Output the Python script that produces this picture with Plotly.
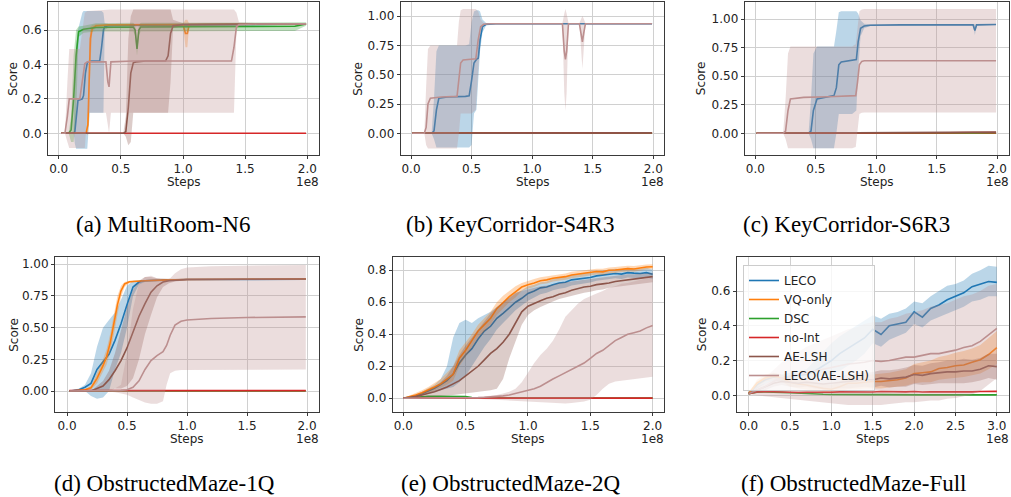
import plotly.graph_objects as go

# ----------------------------------------------------------------- data
SERIES = ["LECO", "VQ-only", "DSC", "no-Int", "AE-LSH", "LECO(AE-LSH)"]
CAPTIONS = ["(a) MultiRoom-N6", "(b) KeyCorridor-S4R3", "(c) KeyCorridor-S6R3",
            "(d) ObstructedMaze-1Q", "(e) ObstructedMaze-2Q", "(f) ObstructedMaze-Full"]
X_TICKS_2 = [0.0, 0.5, 1.0, 1.5, 2.0]
X_TICKS_3 = [0.0, 0.5, 1.0, 1.5, 2.0, 2.5, 3.0]
Y_TICKS_A = [0.0, 0.2, 0.4, 0.6]
Y_TICKS_Q = [0.0, 0.25, 0.5, 0.75, 1.0]
Y_TICKS_E = [0.0, 0.2, 0.4, 0.6, 0.8]
Y_TICKS_F = [0.0, 0.2, 0.4, 0.6]

# (a) MultiRoom-N6  (steps in 1e8)
A_LECO_X = [0.02, 0.12, 0.13, 0.14, 0.155, 0.19, 0.2, 0.215, 0.23, 0.25, 0.33, 0.345, 0.36, 0.37, 0.4, 0.6, 1.0, 1.5, 1.99]
A_LECO_Y = [0.0, 0.0, 0.01, 0.1, 0.19, 0.2, 0.22, 0.35, 0.41, 0.42, 0.42, 0.5, 0.6, 0.62, 0.625, 0.628, 0.63, 0.632, 0.635]
A_LECO_LO = [0.0, 0.0, -0.06, -0.09, -0.09, -0.09, -0.09, -0.09, -0.09, 0.12, 0.12, 0.12, 0.12, 0.6, 0.615, 0.62, 0.625, 0.628, 0.63]
A_LECO_HI = [0.0, 0.0, 0.3, 0.5, 0.6, 0.7, 0.71, 0.71, 0.71, 0.71, 0.71, 0.71, 0.7, 0.64, 0.635, 0.636, 0.636, 0.637, 0.64]
A_VQ_X = [0.02, 0.22, 0.235, 0.245, 0.255, 0.27, 0.3, 0.4, 1.0, 1.02, 1.035, 1.05, 1.5, 1.99]
A_VQ_Y = [0.0, 0.0, 0.05, 0.3, 0.55, 0.61, 0.625, 0.63, 0.632, 0.58, 0.58, 0.632, 0.635, 0.636]
A_VQ_LO = [0.0, 0.0, -0.01, 0.1, 0.4, 0.59, 0.615, 0.625, 0.628, 0.5, 0.5, 0.628, 0.63, 0.632]
A_VQ_HI = [0.0, 0.0, 0.12, 0.5, 0.62, 0.63, 0.635, 0.635, 0.636, 0.66, 0.66, 0.636, 0.637, 0.64]
A_DSC_X = [0.02, 0.08, 0.1, 0.12, 0.14, 0.16, 0.2, 0.3, 0.6, 0.615, 0.63, 0.645, 0.66, 1.0, 1.5, 1.9, 1.99]
A_DSC_Y = [0.0, 0.0, 0.02, 0.2, 0.45, 0.59, 0.605, 0.615, 0.618, 0.6, 0.49, 0.6, 0.618, 0.62, 0.62, 0.622, 0.635]
A_DSC_LO = [0.0, 0.0, -0.05, -0.05, 0.1, 0.56, 0.585, 0.592, 0.592, 0.57, 0.45, 0.57, 0.592, 0.592, 0.592, 0.595, 0.625]
A_DSC_HI = [0.0, 0.0, 0.1, 0.45, 0.6, 0.62, 0.625, 0.64, 0.642, 0.63, 0.53, 0.63, 0.642, 0.643, 0.644, 0.645, 0.645]
A_NOINT_X = [0.02, 1.99]
A_NOINT_Y = [0.0, 0.0]
A_AE_X = [0.02, 0.52, 0.54, 0.56, 0.58, 0.6, 0.62, 0.7, 0.86, 0.88, 0.9, 0.92, 1.0, 1.5, 1.99]
A_AE_Y = [0.0, 0.0, 0.01, 0.15, 0.35, 0.41, 0.415, 0.42, 0.42, 0.45, 0.58, 0.625, 0.632, 0.635, 0.636]
A_AE_LO = [0.0, 0.0, -0.02, -0.07, -0.05, 0.12, 0.12, 0.12, 0.12, 0.12, 0.3, 0.61, 0.625, 0.63, 0.632]
A_AE_HI = [0.0, 0.0, 0.1, 0.55, 0.68, 0.72, 0.72, 0.72, 0.72, 0.72, 0.72, 0.66, 0.64, 0.64, 0.64]
A_LL_X = [0.02, 0.05, 0.07, 0.085, 0.17, 0.19, 0.21, 0.23, 0.38, 0.395, 0.405, 0.42, 0.6, 1.0, 1.39, 1.41, 1.43, 1.45, 1.6, 1.99]
A_LL_Y = [0.0, 0.0, 0.1, 0.2, 0.2, 0.3, 0.405, 0.415, 0.415, 0.3, 0.27, 0.415, 0.42, 0.42, 0.42, 0.5, 0.62, 0.632, 0.635, 0.636]
A_LL_LO = [0.0, 0.0, -0.05, -0.085, -0.085, -0.085, -0.085, 0.12, 0.12, 0.05, 0.0, 0.12, 0.12, 0.12, 0.12, 0.12, 0.6, 0.625, 0.63, 0.632]
A_LL_HI = [0.0, 0.0, 0.3, 0.49, 0.49, 0.6, 0.7, 0.71, 0.72, 0.72, 0.72, 0.72, 0.72, 0.72, 0.72, 0.72, 0.7, 0.645, 0.64, 0.64]

# (b) KeyCorridor-S4R3
B_LECO_X = [0.01, 0.17, 0.19, 0.21, 0.23, 0.3, 0.45, 0.48, 0.5, 0.52, 0.54, 0.555, 0.57, 0.59, 0.62, 0.7, 1.0, 1.5, 1.99]
B_LECO_Y = [0.0, 0.0, 0.02, 0.2, 0.3, 0.31, 0.315, 0.32, 0.45, 0.6, 0.63, 0.64, 0.8, 0.91, 0.93, 0.935, 0.935, 0.935, 0.935]
B_LECO_LO = [0.0, 0.0, -0.05, -0.12, -0.12, -0.12, -0.12, -0.12, -0.1, 0.17, 0.2, 0.5, 0.7, 0.86, 0.92, 0.93, 0.93, 0.93, 0.93]
B_LECO_HI = [0.0, 0.0, 0.3, 0.7, 0.75, 0.75, 0.75, 0.76, 0.95, 1.04, 1.05, 1.05, 1.04, 0.97, 0.94, 0.94, 0.94, 0.94, 0.94]
B_FLAT_X = [0.01, 0.6, 1.0, 1.2, 1.4, 1.6, 1.8, 1.99]
B_VQ_Y = [0.0, 0.0, 0.002, 0.003, 0.002, 0.004, 0.003, 0.004]
B_DSC_Y = [0.0, 0.0, 0.001, 0.002, 0.003, 0.002, 0.002, 0.003]
B_NOINT_Y = [0.0, 0.0, 0.003, 0.004, 0.003, 0.005, 0.004, 0.005]
B_AE_Y = [0.0, 0.0, 0.002, 0.003, 0.004, 0.003, 0.004, 0.004]
B_LL_X = [0.01, 0.11, 0.125, 0.14, 0.16, 0.25, 0.38, 0.395, 0.41, 0.43, 0.5, 0.535, 0.555, 0.575, 0.6, 0.65, 1.0, 1.25,
          1.265, 1.275, 1.285, 1.3, 1.39, 1.405, 1.415, 1.425, 1.44, 1.99]
B_LL_Y = [0.0, 0.0, 0.05, 0.25, 0.3, 0.31, 0.315, 0.45, 0.6, 0.625, 0.63, 0.635, 0.8, 0.91, 0.93, 0.935, 0.935, 0.935,
          0.7, 0.63, 0.7, 0.935, 0.935, 0.85, 0.78, 0.85, 0.935, 0.935]
B_LL_LO = [0.0, 0.0, -0.1, -0.13, -0.13, -0.13, -0.13, 0.0, 0.17, 0.17, 0.17, 0.2, 0.55, 0.86, 0.92, 0.93, 0.93, 0.93,
           0.35, 0.19, 0.35, 0.93, 0.93, 0.7, 0.55, 0.7, 0.93, 0.93]
B_LL_HI = [0.0, 0.0, 0.4, 0.72, 0.75, 0.75, 0.75, 0.95, 1.05, 1.06, 1.06, 1.06, 1.04, 0.97, 0.94, 0.94, 0.94, 0.94,
           1.02, 1.06, 1.02, 0.94, 0.94, 0.98, 1.0, 0.98, 0.94, 0.94]

# (c) KeyCorridor-S6R3
C_LECO_X = [0.01, 0.44, 0.46, 0.48, 0.51, 0.6, 0.65, 0.67, 0.69, 0.71, 0.8, 0.835, 0.85, 0.87, 0.9, 0.95, 1.2, 1.5, 1.8, 1.815, 1.83, 1.99]
C_LECO_Y = [0.0, 0.0, 0.02, 0.2, 0.3, 0.32, 0.33, 0.4, 0.6, 0.625, 0.635, 0.645, 0.8, 0.92, 0.94, 0.947, 0.95, 0.95, 0.95, 0.9, 0.95, 0.953]
C_LECO_LO = [0.0, 0.0, -0.05, -0.13, -0.13, -0.13, -0.13, 0.0, 0.17, 0.17, 0.17, 0.2, 0.55, 0.85, 0.92, 0.94, 0.945, 0.945, 0.945, 0.86, 0.945, 0.948]
C_LECO_HI = [0.0, 0.0, 0.3, 0.7, 0.76, 0.76, 0.76, 0.9, 1.06, 1.07, 1.07, 1.07, 1.05, 0.99, 0.96, 0.955, 0.955, 0.955, 0.955, 0.95, 0.955, 0.958]
C_FLAT_X = [0.01, 0.8, 1.0, 1.2, 1.4, 1.6, 1.8, 1.99]
C_VQ_Y = [0.0, 0.0, 0.002, 0.003, 0.004, 0.003, 0.005, 0.004]
C_DSC_Y = [0.0, 0.0, 0.001, 0.002, 0.002, 0.003, 0.002, 0.003]
C_NOINT_Y = [0.0, 0.0, 0.004, 0.005, 0.006, 0.005, 0.007, 0.006]
C_AE_Y = [0.0, 0.002, 0.005, 0.007, 0.008, 0.01, 0.009, 0.01]
C_LL_X = [0.01, 0.23, 0.25, 0.27, 0.29, 0.4, 0.6, 0.8, 0.83, 0.845, 0.86, 0.88, 0.9, 1.2, 1.6, 1.99]
C_LL_Y = [0.0, 0.0, 0.02, 0.2, 0.3, 0.315, 0.32, 0.325, 0.33, 0.45, 0.6, 0.63, 0.635, 0.635, 0.635, 0.635]
C_LL_LO = [0.0, 0.0, -0.05, -0.13, -0.13, -0.13, -0.13, -0.13, -0.12, 0.05, 0.17, 0.18, 0.183, 0.183, 0.183, 0.183]
C_LL_HI = [0.0, 0.0, 0.3, 0.7, 0.76, 0.76, 0.76, 0.76, 0.78, 0.95, 1.07, 1.085, 1.088, 1.088, 1.088, 1.088]

# (d) ObstructedMaze-1Q
D_LECO_X = [0.02, 0.1, 0.15, 0.2, 0.25, 0.3, 0.35, 0.4, 0.45, 0.5, 0.55, 0.6, 0.65, 0.7, 0.8, 1.0, 1.3, 1.6, 1.99]
D_LECO_Y = [0.0, 0.01, 0.03, 0.06, 0.17, 0.23, 0.29, 0.4, 0.53, 0.68, 0.82, 0.86, 0.87, 0.872, 0.876, 0.88, 0.88, 0.882, 0.882]
D_LECO_LO = [0.0, 0.0, 0.0, -0.04, -0.06, -0.05, 0.0, 0.17, 0.3, 0.5, 0.75, 0.84, 0.86, 0.865, 0.87, 0.875, 0.875, 0.877, 0.878]
D_LECO_HI = [0.0, 0.02, 0.05, 0.14, 0.35, 0.5, 0.56, 0.62, 0.72, 0.83, 0.87, 0.875, 0.88, 0.88, 0.882, 0.885, 0.885, 0.886, 0.886]
D_VQ_X = [0.02, 0.1, 0.15, 0.2, 0.25, 0.3, 0.33, 0.36, 0.39, 0.42, 0.45, 0.48, 0.52, 0.56, 0.65, 0.8, 1.0, 1.5, 1.99]
D_VQ_Y = [0.0, 0.005, 0.01, 0.025, 0.1, 0.2, 0.27, 0.38, 0.52, 0.68, 0.79, 0.845, 0.862, 0.866, 0.87, 0.875, 0.88, 0.882, 0.885]
D_VQ_LO = [0.0, 0.002, 0.005, 0.01, 0.06, 0.15, 0.21, 0.31, 0.44, 0.6, 0.74, 0.82, 0.852, 0.86, 0.865, 0.87, 0.875, 0.878, 0.881]
D_VQ_HI = [0.0, 0.008, 0.015, 0.04, 0.14, 0.25, 0.33, 0.45, 0.6, 0.75, 0.83, 0.86, 0.87, 0.872, 0.875, 0.88, 0.885, 0.886, 0.889]
D_FLAT_X = [0.02, 1.99]
D_DSC_Y = [0.0, 0.0]
D_NOINT_Y = [0.003, 0.003]
D_AE_X = [0.02, 0.2, 0.3, 0.35, 0.4, 0.45, 0.5, 0.55, 0.6, 0.65, 0.7, 0.75, 0.8, 0.85, 0.9, 1.0, 1.5, 1.99]
D_AE_Y = [0.0, 0.0, 0.04, 0.09, 0.16, 0.24, 0.34, 0.47, 0.59, 0.69, 0.78, 0.83, 0.86, 0.87, 0.875, 0.88, 0.882, 0.884]
D_AE_LO = [0.0, 0.0, 0.0, 0.0, 0.02, 0.02, 0.04, 0.1, 0.25, 0.45, 0.6, 0.74, 0.82, 0.85, 0.865, 0.873, 0.877, 0.879]
D_AE_HI = [0.0, 0.0, 0.08, 0.16, 0.3, 0.48, 0.66, 0.8, 0.87, 0.9, 0.9, 0.89, 0.885, 0.885, 0.885, 0.887, 0.887, 0.889]
D_LL_X = [0.02, 0.3, 0.4, 0.45, 0.5, 0.55, 0.6, 0.65, 0.7, 0.75, 0.8, 0.83, 0.86, 0.9, 0.95, 1.0, 1.2, 1.5, 1.99]
D_LL_Y = [0.0, 0.0, 0.0, 0.005, 0.01, 0.03, 0.08, 0.17, 0.24, 0.28, 0.31, 0.36, 0.44, 0.52, 0.55, 0.56, 0.572, 0.58, 0.585]
D_LL_LO = [0.0, 0.0, -0.01, -0.02, -0.03, -0.05, -0.07, -0.09, -0.1, -0.1, -0.08, 0.05, 0.14, 0.16, 0.165, 0.165, 0.165, 0.168, 0.17]
D_LL_HI = [0.0, 0.0, 0.02, 0.05, 0.3, 0.65, 0.85, 0.9, 0.91, 0.89, 0.88, 0.88, 0.89, 0.93, 0.96, 0.975, 0.985, 0.99, 0.995]

# (e) ObstructedMaze-2Q
E_X = [0.0, 0.05, 0.1, 0.15, 0.2, 0.25, 0.3, 0.35, 0.4, 0.45, 0.5, 0.55, 0.6, 0.65, 0.7, 0.75, 0.8, 0.85, 0.9, 0.95,
       1.0, 1.05, 1.1, 1.15, 1.2, 1.25, 1.3, 1.35, 1.4, 1.45, 1.5, 1.55, 1.6, 1.65, 1.7, 1.75, 1.8, 1.85, 1.9, 1.95, 2.0]
E_LECO_Y = [0.0, 0.008, 0.015, 0.028, 0.045, 0.062, 0.085, 0.11, 0.15, 0.22, 0.27, 0.31, 0.37, 0.42, 0.45, 0.5, 0.53,
            0.565, 0.6, 0.625, 0.655, 0.67, 0.69, 0.695, 0.71, 0.72, 0.725, 0.74, 0.745, 0.75, 0.755, 0.765, 0.77,
            0.772, 0.78, 0.776, 0.785, 0.782, 0.78, 0.785, 0.775]
E_LECO_LO = [0.0, 0.004, 0.008, 0.016, 0.03, 0.04, 0.05, 0.06, 0.07, 0.1, 0.14, 0.2, 0.26, 0.32, 0.37, 0.43, 0.47,
             0.51, 0.55, 0.58, 0.61, 0.63, 0.65, 0.66, 0.675, 0.685, 0.69, 0.705, 0.71, 0.718, 0.723, 0.735, 0.74,
             0.742, 0.75, 0.746, 0.755, 0.752, 0.75, 0.755, 0.745]
E_LECO_HI = [0.0, 0.012, 0.022, 0.04, 0.062, 0.085, 0.12, 0.2, 0.38, 0.47, 0.49, 0.47, 0.5, 0.52, 0.54, 0.57, 0.6,
             0.625, 0.655, 0.675, 0.7, 0.71, 0.725, 0.73, 0.745, 0.755, 0.76, 0.772, 0.777, 0.782, 0.787, 0.795, 0.8,
             0.802, 0.81, 0.806, 0.815, 0.812, 0.81, 0.815, 0.805]
E_VQ_Y = [0.0, 0.01, 0.02, 0.035, 0.05, 0.07, 0.09, 0.12, 0.15, 0.25, 0.3, 0.36, 0.42, 0.46, 0.5, 0.56, 0.6, 0.635,
          0.665, 0.695, 0.71, 0.72, 0.735, 0.74, 0.75, 0.755, 0.76, 0.77, 0.775, 0.78, 0.785, 0.792, 0.79, 0.8,
          0.802, 0.805, 0.81, 0.808, 0.815, 0.82, 0.822]
E_VQ_LO = [0.0, 0.005, 0.012, 0.022, 0.032, 0.048, 0.065, 0.085, 0.11, 0.2, 0.26, 0.32, 0.38, 0.42, 0.46, 0.52, 0.56,
           0.6, 0.63, 0.67, 0.685, 0.695, 0.712, 0.718, 0.73, 0.735, 0.74, 0.75, 0.755, 0.76, 0.765, 0.774, 0.77,
           0.782, 0.784, 0.787, 0.792, 0.79, 0.798, 0.804, 0.806]
E_VQ_HI = [0.0, 0.015, 0.03, 0.05, 0.07, 0.095, 0.12, 0.16, 0.2, 0.3, 0.35, 0.4, 0.46, 0.5, 0.54, 0.6, 0.64, 0.67,
           0.7, 0.72, 0.735, 0.745, 0.757, 0.762, 0.77, 0.775, 0.78, 0.79, 0.795, 0.8, 0.805, 0.81, 0.81, 0.818,
           0.82, 0.823, 0.828, 0.826, 0.832, 0.836, 0.838]
E_DSC_X = [0.0, 0.1, 0.2, 0.3, 0.4, 0.5, 0.55, 0.7, 1.0, 1.5, 2.0]
E_DSC_Y = [0.0, 0.008, 0.012, 0.012, 0.011, 0.01, 0.004, 0.002, 0.002, 0.002, 0.002]
E_NOINT_X = [0.0, 2.0]
E_NOINT_Y = [0.001, 0.001]
E_AE_Y = [0.0, 0.005, 0.01, 0.02, 0.03, 0.04, 0.055, 0.07, 0.09, 0.11, 0.14, 0.17, 0.2, 0.24, 0.28, 0.31, 0.35, 0.4,
          0.47, 0.54, 0.575, 0.595, 0.61, 0.625, 0.635, 0.65, 0.66, 0.675, 0.685, 0.695, 0.7, 0.71, 0.715, 0.72,
          0.73, 0.735, 0.74, 0.745, 0.75, 0.755, 0.76]
E_AE_LO = [0.0, 0.0, 0.003, 0.006, 0.01, 0.012, 0.015, 0.018, 0.02, 0.025, 0.03, 0.035, 0.04, 0.045, 0.05, 0.06,
           0.12, 0.25, 0.36, 0.46, 0.52, 0.55, 0.57, 0.59, 0.605, 0.62, 0.63, 0.64, 0.65, 0.66, 0.665, 0.675, 0.68,
           0.69, 0.695, 0.7, 0.705, 0.71, 0.715, 0.72, 0.725]
E_AE_HI = [0.0, 0.01, 0.02, 0.035, 0.05, 0.07, 0.1, 0.14, 0.2, 0.27, 0.33, 0.38, 0.43, 0.48, 0.53, 0.57, 0.6, 0.63,
           0.66, 0.67, 0.68, 0.69, 0.7, 0.705, 0.71, 0.72, 0.725, 0.73, 0.735, 0.74, 0.745, 0.75, 0.755, 0.76, 0.765,
           0.77, 0.775, 0.775, 0.78, 0.78, 0.785]
E_LL_Y = [0.0, 0.0, 0.0, 0.0, 0.0, 0.0, 0.0, 0.0, 0.0, 0.0, 0.0, 0.002, 0.004, 0.006, 0.008, 0.01, 0.015, 0.02, 0.03,
          0.04, 0.05, 0.06, 0.075, 0.1, 0.12, 0.14, 0.16, 0.18, 0.2, 0.22, 0.25, 0.28, 0.3, 0.33, 0.36, 0.38, 0.4,
          0.41, 0.42, 0.44, 0.455]
E_LL_LO = [0.0, 0.0, 0.0, 0.0, 0.0, 0.0, 0.0, 0.0, 0.0, 0.0, 0.0, -0.002, -0.004, -0.006, -0.008, -0.01, -0.012,
           -0.014, -0.016, -0.018, -0.02, -0.022, -0.025, -0.028, -0.03, -0.032, -0.032, -0.03, -0.025, -0.02,
           -0.01, 0.02, 0.06, 0.09, 0.105, 0.11, 0.115, 0.12, 0.125, 0.13, 0.135]
E_LL_HI = [0.0, 0.0, 0.0, 0.0, 0.0, 0.0, 0.0, 0.0, 0.0, 0.0, 0.0, 0.005, 0.01, 0.012, 0.015, 0.02, 0.03, 0.04, 0.06,
           0.1, 0.16, 0.22, 0.27, 0.31, 0.36, 0.43, 0.51, 0.55, 0.59, 0.62, 0.64, 0.655, 0.67, 0.69, 0.7, 0.715, 0.72,
           0.73, 0.74, 0.75, 0.76]

# (f) ObstructedMaze-Full
F_X = [0.0, 0.1, 0.2, 0.3, 0.4, 0.5, 0.6, 0.7, 0.8, 0.9, 1.0, 1.1, 1.2, 1.3, 1.4, 1.5, 1.6, 1.7, 1.8, 1.9, 2.0,
       2.1, 2.2, 2.3, 2.4, 2.5, 2.6, 2.7, 2.8, 2.9, 3.0]
F_LECO_Y = [0.01, 0.06, 0.09, 0.105, 0.1, 0.11, 0.115, 0.12, 0.14, 0.17, 0.2, 0.24, 0.27, 0.3, 0.33, 0.38, 0.35, 0.4,
            0.41, 0.42, 0.48, 0.45, 0.5, 0.52, 0.55, 0.57, 0.59, 0.625, 0.64, 0.655, 0.65]
F_LECO_LO = [0.005, 0.04, 0.07, 0.085, 0.08, 0.09, 0.095, 0.1, 0.1, 0.11, 0.12, 0.14, 0.17, 0.2, 0.24, 0.3, 0.28,
             0.32, 0.34, 0.36, 0.41, 0.39, 0.43, 0.45, 0.47, 0.49, 0.51, 0.54, 0.55, 0.57, 0.57]
F_LECO_HI = [0.015, 0.08, 0.11, 0.125, 0.12, 0.13, 0.14, 0.15, 0.2, 0.25, 0.3, 0.34, 0.37, 0.4, 0.43, 0.46, 0.44,
             0.47, 0.48, 0.5, 0.54, 0.53, 0.57, 0.6, 0.63, 0.64, 0.66, 0.7, 0.72, 0.745, 0.74]
F_VQ_Y = [0.01, 0.07, 0.1, 0.11, 0.1, 0.075, 0.065, 0.06, 0.05, 0.04, 0.035, 0.05, 0.07, 0.07, 0.075, 0.08, 0.08,
          0.085, 0.09, 0.1, 0.125, 0.13, 0.135, 0.155, 0.16, 0.17, 0.175, 0.19, 0.205, 0.235, 0.275]
F_VQ_LO = [0.005, 0.05, 0.08, 0.09, 0.08, 0.05, 0.04, 0.035, 0.028, 0.02, 0.015, 0.025, 0.035, 0.035, 0.04, 0.04,
           0.04, 0.045, 0.05, 0.055, 0.07, 0.075, 0.075, 0.09, 0.095, 0.1, 0.105, 0.115, 0.125, 0.15, 0.18]
F_VQ_HI = [0.015, 0.09, 0.12, 0.13, 0.12, 0.1, 0.09, 0.085, 0.075, 0.065, 0.06, 0.08, 0.105, 0.11, 0.115, 0.12,
           0.125, 0.13, 0.14, 0.15, 0.18, 0.19, 0.2, 0.22, 0.23, 0.245, 0.255, 0.27, 0.29, 0.33, 0.37]
F_DSC_Y = [0.01, 0.018, 0.02, 0.02, 0.017, 0.015, 0.012, 0.01, 0.008, 0.006, 0.005, 0.004, 0.004, 0.004, 0.004,
           0.004, 0.004, 0.003, 0.003, 0.003, 0.003, 0.003, 0.003, 0.003, 0.003, 0.003, 0.003, 0.003, 0.003, 0.003, 0.003]
F_NOINT_Y = [0.01, 0.02, 0.022, 0.02, 0.018, 0.017, 0.016, 0.018, 0.017, 0.02, 0.018, 0.02, 0.019, 0.021, 0.02,
             0.019, 0.022, 0.02, 0.021, 0.02, 0.022, 0.019, 0.021, 0.02, 0.022, 0.02, 0.021, 0.02, 0.022, 0.021, 0.023]
F_AE_Y = [0.01, 0.03, 0.05, 0.07, 0.08, 0.075, 0.07, 0.075, 0.07, 0.065, 0.07, 0.075, 0.08, 0.085, 0.09, 0.09, 0.1,
          0.095, 0.1, 0.105, 0.12, 0.115, 0.125, 0.13, 0.135, 0.135, 0.14, 0.14, 0.15, 0.17, 0.165]
F_AE_LO = [0.005, 0.015, 0.03, 0.05, 0.06, 0.05, 0.045, 0.05, 0.04, 0.035, 0.035, 0.04, 0.04, 0.045, 0.05, 0.045,
           0.055, 0.045, 0.05, 0.05, 0.065, 0.06, 0.065, 0.07, 0.07, 0.07, 0.07, 0.075, 0.085, 0.1, 0.09]
F_AE_HI = [0.015, 0.05, 0.07, 0.09, 0.1, 0.1, 0.095, 0.1, 0.1, 0.1, 0.105, 0.11, 0.12, 0.125, 0.13, 0.135, 0.145,
           0.145, 0.15, 0.16, 0.175, 0.17, 0.185, 0.19, 0.2, 0.2, 0.21, 0.205, 0.215, 0.24, 0.24]
F_LL_Y = [0.01, 0.03, 0.05, 0.08, 0.1, 0.11, 0.12, 0.13, 0.14, 0.15, 0.16, 0.17, 0.18, 0.185, 0.19, 0.2, 0.195, 0.2,
          0.21, 0.22, 0.22, 0.23, 0.24, 0.24, 0.25, 0.26, 0.275, 0.285, 0.31, 0.35, 0.385]
F_LL_LO = [0.005, 0.0, -0.005, -0.01, -0.015, -0.02, -0.025, -0.03, -0.035, -0.04, -0.045, -0.05, -0.055, -0.055,
           -0.055, -0.055, -0.055, -0.05, -0.045, -0.04, -0.04, -0.035, -0.03, -0.03, -0.02, -0.015, -0.005, 0.005,
           0.025, 0.06, 0.1]
F_LL_HI = [0.015, 0.06, 0.1, 0.15, 0.19, 0.22, 0.25, 0.28, 0.3, 0.32, 0.34, 0.36, 0.38, 0.39, 0.41, 0.42, 0.42,
           0.44, 0.45, 0.47, 0.48, 0.49, 0.51, 0.52, 0.53, 0.55, 0.57, 0.58, 0.6, 0.63, 0.64]

# ----------------------------------------------------------------- style / layout
W, H = 1011, 497
COLORS = {"LECO": "#1f77b4", "VQ-only": "#ff7f0e", "DSC": "#2ca02c", "no-Int": "#d62728",
          "AE-LSH": "#8c564b", "LECO(AE-LSH)": "#bc8f8f"}
BAND_ALPHA = 0.3
# pixel boxes (left, right, top, bottom) of each axes
BOXES = [(48, 319, 2, 155), (400.7, 664.3, 2, 155), (744.7, 1008.5, 2, 155),
         (55, 319, 257.3, 411.7), (392.7, 664, 257.3, 411.7), (736.7, 1009, 257.3, 411.7)]
X_RANGES = [[-0.086, 2.094], [-0.085, 2.091], [-0.088, 2.093], [-0.1, 2.1], [-0.085, 2.091], [-0.145, 3.147]]
Y_RANGES = [[-0.126, 0.763], [-0.185, 1.12], [-0.19, 1.15], [-0.163, 1.055], [-0.084, 0.881], [-0.094, 0.794]]
SCORE_X = [13.3, 358.3, 701.7, 13.3, 358.3, 701.7]
STEPS_Y = [182, 439]
CAPTION_POS = [(163, 225), (510, 225), (846, 225), (164, 483), (510, 483), (853, 483)]

fig = go.Figure()


def rgba(hexc, a):
    h = hexc.lstrip("#")
    return "rgba(%d,%d,%d,%.3f)" % (int(h[0:2], 16), int(h[2:4], 16), int(h[4:6], 16), a)


def add(panel, name, x, y, lo=None, hi=None, legend=False):
    xa = "x" if panel == 1 else "x%d" % panel
    ya = "y" if panel == 1 else "y%d" % panel
    c = COLORS[name]
    if lo is not None:
        fig.add_trace(go.Scatter(x=x, y=lo, xaxis=xa, yaxis=ya, mode="lines", line=dict(width=0, color=c),
                                 showlegend=False, hoverinfo="skip"))
        fig.add_trace(go.Scatter(x=x, y=hi, xaxis=xa, yaxis=ya, mode="lines", line=dict(width=0, color=c),
                                 fill="tonexty", fillcolor=rgba(c, BAND_ALPHA), showlegend=False, hoverinfo="skip"))
    fig.add_trace(go.Scatter(x=x, y=y, xaxis=xa, yaxis=ya, mode="lines", name=name,
                             line=dict(width=1.6, color=c), showlegend=legend))


# (a)
add(1, "LECO", A_LECO_X, A_LECO_Y, A_LECO_LO, A_LECO_HI)
add(1, "VQ-only", A_VQ_X, A_VQ_Y, A_VQ_LO, A_VQ_HI)
add(1, "DSC", A_DSC_X, A_DSC_Y, A_DSC_LO, A_DSC_HI)
add(1, "no-Int", A_NOINT_X, A_NOINT_Y)
add(1, "AE-LSH", A_AE_X, A_AE_Y, A_AE_LO, A_AE_HI)
add(1, "LECO(AE-LSH)", A_LL_X, A_LL_Y, A_LL_LO, A_LL_HI)
# (b)
add(2, "LECO", B_LECO_X, B_LECO_Y, B_LECO_LO, B_LECO_HI)
add(2, "VQ-only", B_FLAT_X, B_VQ_Y)
add(2, "DSC", B_FLAT_X, B_DSC_Y)
add(2, "no-Int", B_FLAT_X, B_NOINT_Y)
add(2, "AE-LSH", B_FLAT_X, B_AE_Y)
add(2, "LECO(AE-LSH)", B_LL_X, B_LL_Y, B_LL_LO, B_LL_HI)
# (c)
add(3, "LECO", C_LECO_X, C_LECO_Y, C_LECO_LO, C_LECO_HI)
add(3, "VQ-only", C_FLAT_X, C_VQ_Y)
add(3, "DSC", C_FLAT_X, C_DSC_Y)
add(3, "no-Int", C_FLAT_X, C_NOINT_Y)
add(3, "AE-LSH", C_FLAT_X, C_AE_Y)
add(3, "LECO(AE-LSH)", C_LL_X, C_LL_Y, C_LL_LO, C_LL_HI)
# (d)
add(4, "LECO", D_LECO_X, D_LECO_Y, D_LECO_LO, D_LECO_HI)
add(4, "VQ-only", D_VQ_X, D_VQ_Y, D_VQ_LO, D_VQ_HI)
add(4, "DSC", D_FLAT_X, D_DSC_Y)
add(4, "no-Int", D_FLAT_X, D_NOINT_Y)
add(4, "AE-LSH", D_AE_X, D_AE_Y, D_AE_LO, D_AE_HI)
add(4, "LECO(AE-LSH)", D_LL_X, D_LL_Y, D_LL_LO, D_LL_HI)
# (e)
add(5, "LECO", E_X, E_LECO_Y, E_LECO_LO, E_LECO_HI)
add(5, "VQ-only", E_X, E_VQ_Y, E_VQ_LO, E_VQ_HI)
add(5, "DSC", E_DSC_X, E_DSC_Y)
add(5, "no-Int", E_NOINT_X, E_NOINT_Y)
add(5, "AE-LSH", E_X, E_AE_Y, E_AE_LO, E_AE_HI)
add(5, "LECO(AE-LSH)", E_X, E_LL_Y, E_LL_LO, E_LL_HI)
# (f) with legend
add(6, "LECO", F_X, F_LECO_Y, F_LECO_LO, F_LECO_HI, legend=True)
add(6, "VQ-only", F_X, F_VQ_Y, F_VQ_LO, F_VQ_HI, legend=True)
add(6, "DSC", F_X, F_DSC_Y, legend=True)
add(6, "no-Int", F_X, F_NOINT_Y, legend=True)
add(6, "AE-LSH", F_X, F_AE_Y, F_AE_LO, F_AE_HI, legend=True)
add(6, "LECO(AE-LSH)", F_X, F_LL_Y, F_LL_LO, F_LL_HI, legend=True)

TICK_FONT = dict(family="DejaVu Sans", size=12, color="#222222")
X_TICKS = [X_TICKS_2, X_TICKS_2, X_TICKS_2, X_TICKS_2, X_TICKS_2, X_TICKS_3]
Y_TICKS = [Y_TICKS_A, Y_TICKS_Q, Y_TICKS_Q, Y_TICKS_Q, Y_TICKS_E, Y_TICKS_F]
Y_FMT = [".1f", ".2f", ".2f", ".2f", ".1f", ".1f"]

layout = {}
for i in range(6):
    l, r, t, b = BOXES[i]
    sx = "xaxis" if i == 0 else "xaxis%d" % (i + 1)
    sy = "yaxis" if i == 0 else "yaxis%d" % (i + 1)
    common = dict(showgrid=True, gridcolor="#d0d0d0", gridwidth=1, zeroline=False, showline=True, mirror=True,
                  linecolor="#3a3a3a", linewidth=1, ticks="outside", ticklen=3, tickwidth=1, tickcolor="#3a3a3a",
                  tickfont=TICK_FONT)
    layout[sx] = dict(domain=[l / W, r / W], anchor="y" if i == 0 else "y%d" % (i + 1),
                      range=X_RANGES[i], tickmode="array", tickvals=X_TICKS[i], tickformat=".1f", **common)
    layout[sy] = dict(domain=[1 - b / H, 1 - t / H], anchor="x" if i == 0 else "x%d" % (i + 1),
                      range=Y_RANGES[i], tickmode="array", tickvals=Y_TICKS[i], tickformat=Y_FMT[i], **common)

fig.update_layout(**layout)

LABEL_FONT = dict(family="DejaVu Sans", size=12, color="#222222")
for i in range(6):
    l, r, t, b = BOXES[i]
    row = 0 if i < 3 else 1
    fig.add_annotation(x=SCORE_X[i] / W, y=1 - ((t + b) / 2) / H, xref="paper", yref="paper", text="Score",
                       textangle=-90, showarrow=False, font=LABEL_FONT, xanchor="center", yanchor="middle",
                       borderpad=0)
    fig.add_annotation(x=((l + r) / 2) / W, y=1 - STEPS_Y[row] / H, xref="paper", yref="paper", text="Steps",
                       showarrow=False, font=LABEL_FONT, xanchor="center", yanchor="middle", borderpad=0)
    fig.add_annotation(x=min(r + 1, W) / W, y=1 - STEPS_Y[row] / H, xref="paper", yref="paper", text="1e8",
                       showarrow=False, font=LABEL_FONT, xanchor="right", yanchor="middle", borderpad=0)
    cx, cy = CAPTION_POS[i]
    fig.add_annotation(x=cx / W, y=1 - cy / H, xref="paper", yref="paper", text=CAPTIONS[i], showarrow=False,
                       font=dict(family="Liberation Serif", size=23, color="#000000"),
                       xanchor="center", yanchor="middle")

fig.update_layout(
    width=W, height=H, margin=dict(l=0, r=0, t=0, b=0), autosize=False,
    paper_bgcolor="white", plot_bgcolor="white",
    font=dict(family="DejaVu Sans", size=12, color="#222222"),
    legend=dict(x=743 / W, y=1 - 265 / H, xanchor="left", yanchor="top", bgcolor="rgba(255,255,255,0.8)",
                bordercolor="#cccccc", borderwidth=1, font=dict(family="DejaVu Sans", size=12, color="#222222"),
                tracegroupgap=0, itemwidth=30, traceorder="normal"),
)

fig.write_html("out.html", config={"displayModeBar": False},
               post_script="document.body.style.margin='0';document.body.style.overflow='hidden';")
